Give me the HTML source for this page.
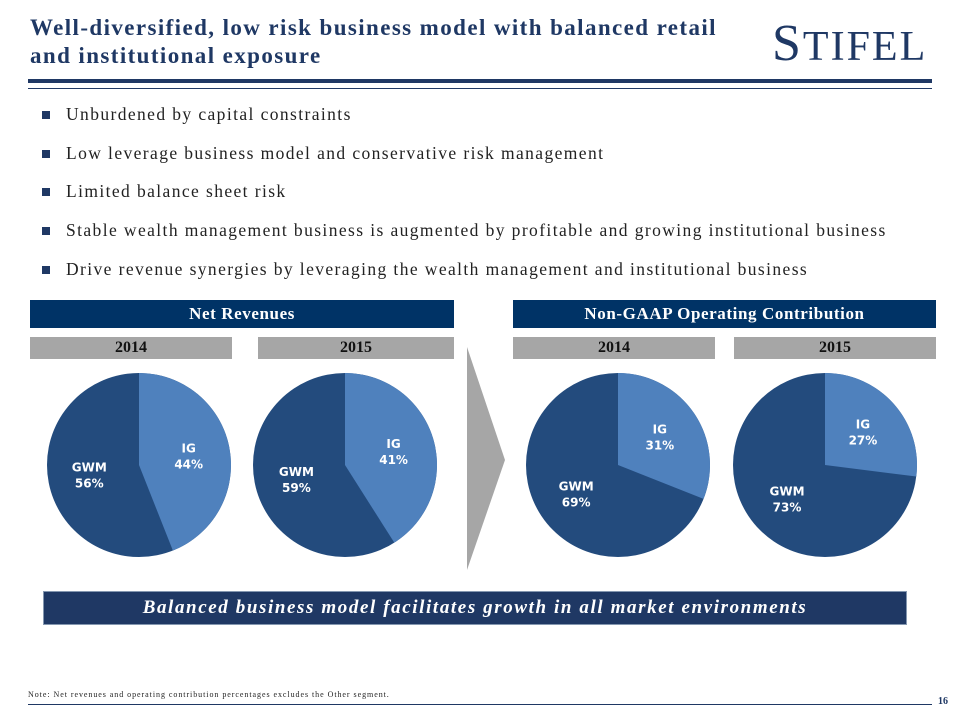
<!DOCTYPE html>
<html><head><meta charset="utf-8"><style>
body{margin:0;background:#fff;}
#page{position:relative;width:960px;height:720px;overflow:hidden;font-family:"Liberation Serif",serif;}
.abs{position:absolute;}
.title{left:30px;top:14px;font-size:23px;font-weight:bold;color:#1f3864;line-height:28px;letter-spacing:1.4px;white-space:nowrap;}
.logo{left:772px;top:14px;font-size:52px;color:#1f3864;letter-spacing:2px;line-height:60px;}
.logo small{font-size:42px;}
.bullet{left:42px;font-size:17.5px;color:#222;letter-spacing:1.4px;white-space:nowrap;}
.bullet:before{content:"";position:absolute;left:0;top:7px;width:8px;height:8px;background:#1f3864;}
.bullet span{margin-left:24px;}
.hdr{background:#003366;color:#fff;font-weight:bold;font-size:17px;letter-spacing:0.6px;text-align:center;line-height:28px;height:28px;white-space:nowrap;}
.yr{background:#a6a6a6;color:#111;font-weight:bold;font-size:16px;text-align:center;line-height:22px;height:22px;}
</style></head><body>
<div id="page">
<div class="abs title">Well-diversified, low risk business model with balanced retail<br>and institutional exposure</div>
<div class="abs logo">S<small>TIFEL</small></div>
<div class="abs" style="left:28px;top:79px;width:904px;height:4px;background:#1f3864"></div>
<div class="abs" style="left:28px;top:88px;width:904px;height:1px;background:#1f3864"></div>

<div class="abs bullet" style="top:104px"><span>Unburdened by capital constraints</span></div>
<div class="abs bullet" style="top:143px"><span>Low leverage business model and conservative risk management</span></div>
<div class="abs bullet" style="top:181px"><span>Limited balance sheet risk</span></div>
<div class="abs bullet" style="top:220px"><span>Stable wealth management business is augmented by profitable and growing institutional business</span></div>
<div class="abs bullet" style="top:259px"><span>Drive revenue synergies by leveraging the wealth management and institutional business</span></div>

<div class="abs hdr" style="left:30px;top:300px;width:424px">Net Revenues</div>
<div class="abs yr" style="left:30px;top:337px;width:202px">2014</div>
<div class="abs yr" style="left:258px;top:337px;width:196px">2015</div>
<div class="abs hdr" style="left:513px;top:300px;width:423px">Non-GAAP Operating Contribution</div>
<div class="abs yr" style="left:513px;top:337px;width:202px">2014</div>
<div class="abs yr" style="left:734px;top:337px;width:202px">2015</div>

<svg class="abs" style="left:0;top:0" width="960" height="720" id="pies">
<polygon points="467,347 505,460 467,570" fill="#a6a6a6"/>
</svg>

<div class="abs" style="left:43px;top:591px;width:862px;height:32px;background:#1f3864;border:1px solid #8497b0;color:#fff;font-style:italic;font-weight:bold;font-size:19px;text-align:center;line-height:32px;letter-spacing:1.6px;white-space:nowrap">Balanced business model facilitates growth in all market environments</div>

<div class="abs" style="left:28px;top:690px;font-size:8px;color:#222;letter-spacing:0.95px;white-space:nowrap">Note: Net revenues and operating contribution percentages excludes the Other segment.</div>
<div class="abs" style="left:28px;top:704px;width:904px;height:1px;background:#1f3864"></div>
<div class="abs" style="left:938px;top:696px;font-size:10px;font-weight:bold;color:#1f3864">16</div>
</div>
<script>
const pieNames=["nr-2014","nr-2015","oc-2014","oc-2015"];
const igValues=[44,41,31,27];
const gwmValues=[56,59,69,73];
const centersX=[139,345,618,825];
const centerY=465, R=92;
const svg=document.getElementById('pies');
const NS="http://www.w3.org/2000/svg";
function pt(cx,cy,r,frac){const a=frac*2*Math.PI-Math.PI/2;return [cx+r*Math.cos(a),cy+r*Math.sin(a)];}
function txt(x,y,s){const t=document.createElementNS(NS,'text');t.setAttribute('x',x);t.setAttribute('y',y);t.setAttribute('fill','#fff');t.setAttribute('font-family','"DejaVu Sans",sans-serif');t.setAttribute('font-weight','bold');t.setAttribute('font-size','12');t.setAttribute('text-anchor','middle');t.textContent=s;return t;}
pieNames.forEach((n,i)=>{
  const cx=centersX[i], ig=igValues[i]/(igValues[i]+gwmValues[i]);
  const c=document.createElementNS(NS,'circle');
  c.setAttribute('cx',cx);c.setAttribute('cy',centerY);c.setAttribute('r',R);c.setAttribute('fill','#234b7d');
  
  
  svg.appendChild(c);
  const e=pt(cx,centerY,R,ig);
  const p=document.createElementNS(NS,'path');
  p.setAttribute('d',`M${cx},${centerY} L${cx},${centerY-R} A${R},${R} 0 ${ig>0.5?1:0} 1 ${e[0]},${e[1]} Z`);
  p.setAttribute('fill','#4f81bd');
  
  
  svg.appendChild(p);
  const li=pt(cx,centerY,R*0.55,ig/2), lg=pt(cx,centerY,R*0.55,ig+(1-ig)/2);
  const t1=txt(li[0],li[1]-3,'IG');
  
  
  svg.appendChild(t1);
  const t2=txt(li[0],li[1]+13,igValues[i]+'%');
  
  
  svg.appendChild(t2);
  const t3=txt(lg[0],lg[1]-3,'GWM');
  
  
  svg.appendChild(t3);
  const t4=txt(lg[0],lg[1]+13,gwmValues[i]+'%');
  
  
  svg.appendChild(t4);
});
</script>
</body></html>
